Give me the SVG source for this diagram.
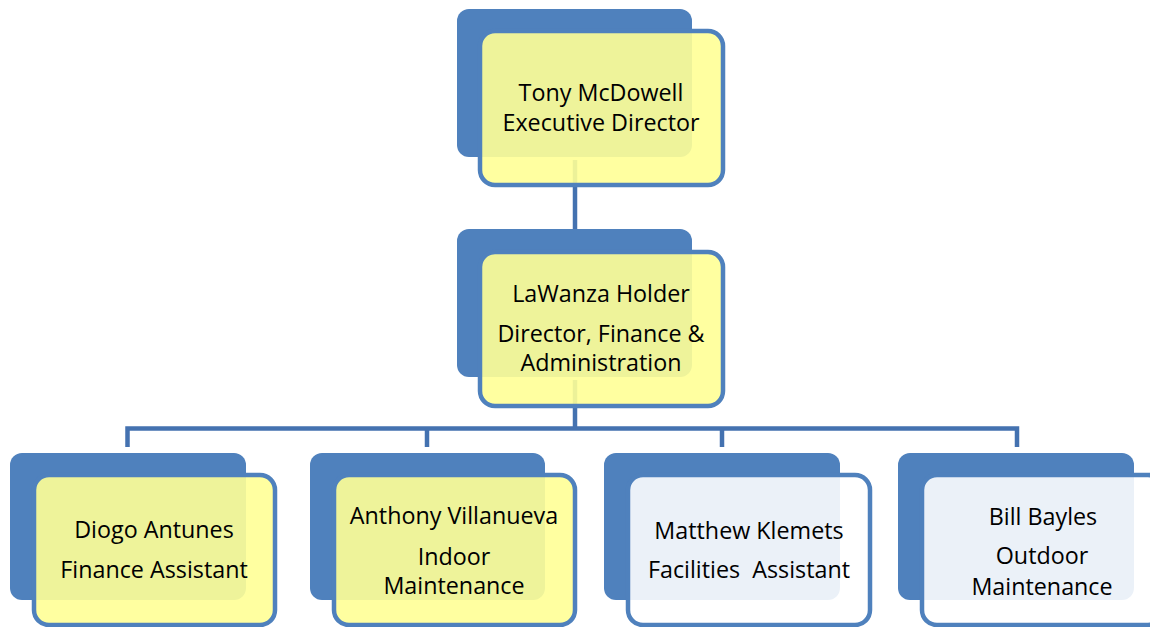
<svg xmlns="http://www.w3.org/2000/svg" width="1150" height="627" viewBox="0 0 1150 627">
  <style>
    .back { fill: #4F81BD; }
    .front { stroke: #4F81BD; stroke-width: 4.5; }
    .yel { fill: #FFFF96; fill-opacity: 0.9; }
    .wht { fill: #FFFFFF; fill-opacity: 0.89; }
    .conn { fill: none; stroke: #4472B0; stroke-width: 4.5; stroke-linejoin: miter; }
    text { font-family: "Open Sans", "Liberation Sans", sans-serif; font-size: 23.3px; fill: #000; text-anchor: middle; white-space: pre; }
  </style>
  <rect width="1150" height="627" fill="#FFFFFF"/>
  <g id="connectors">
    <line class="conn" x1="575" y1="160" x2="575" y2="232"/>
    <line class="conn" x1="575" y1="380" x2="575" y2="430"/>
    <path class="conn" d="M127.5 447 V428.5 H1017 V447"/>
    <line class="conn" x1="427" y1="428.5" x2="427" y2="447"/>
    <line class="conn" x1="722" y1="428.5" x2="722" y2="447"/>
  </g>
  <g id="node-tony">
    <rect class="back" x="457" y="9" width="235" height="148" rx="12"/>
    <rect class="front yel" x="480" y="31" width="243" height="154" rx="15"/>
    <text x="601" y="101">Tony McDowell</text>
    <text x="601" y="131">Executive Director</text>
  </g>
  <g id="node-lawanza">
    <rect class="back" x="457" y="229" width="235" height="148" rx="12"/>
    <rect class="front yel" x="480" y="252" width="243" height="154" rx="15"/>
    <text x="601" y="302">LaWanza Holder</text>
    <text x="601" y="342">Director, Finance &amp;</text>
    <text x="601" y="371">Administration</text>
  </g>
  <g id="node-diogo">
    <rect class="back" x="10" y="453" width="236" height="147" rx="12"/>
    <rect class="front yel" x="34" y="475" width="241" height="150" rx="15"/>
    <text x="154" y="538">Diogo Antunes</text>
    <text x="154" y="578">Finance Assistant</text>
  </g>
  <g id="node-anthony">
    <rect class="back" x="310" y="453" width="235" height="147" rx="12"/>
    <rect class="front yel" x="334" y="475" width="241" height="150" rx="15"/>
    <text x="454" y="524">Anthony Villanueva</text>
    <text x="454" y="565">Indoor</text>
    <text x="454" y="594">Maintenance</text>
  </g>
  <g id="node-matthew">
    <rect class="back" x="604" y="453" width="236" height="147" rx="12"/>
    <rect class="front wht" x="628" y="475" width="242" height="150" rx="15"/>
    <text x="749" y="539">Matthew Klemets</text>
    <text x="749" y="578">Facilities  Assistant</text>
  </g>
  <g id="node-bill">
    <rect class="back" x="898" y="453" width="236" height="147" rx="12"/>
    <rect class="front wht" x="922" y="475" width="241" height="150" rx="15"/>
    <text x="1043" y="525">Bill Bayles</text>
    <text x="1042" y="564">Outdoor</text>
    <text x="1042" y="595">Maintenance</text>
  </g>
</svg>
